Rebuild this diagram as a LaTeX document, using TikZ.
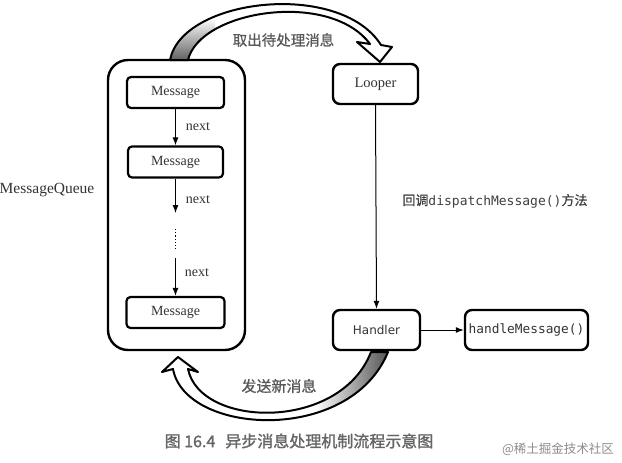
\documentclass[tikz,border=0pt]{standalone}
\usepackage{fontspec}
\setmainfont{Liberation Serif}
\newfontfamily\cjk{Noto Sans CJK SC}
\newfontfamily\cjkb[FakeBold=1.5]{Noto Sans CJK SC}
\newfontfamily\cjkm[FakeBold=0.8]{Noto Sans CJK SC}
\newfontfamily\monof{DejaVu Sans Mono}
\newfontfamily\sansf{DejaVu Sans}
\usetikzlibrary{arrows.meta}
\begin{document}
\begin{tikzpicture}[x=1pt,y=-1pt,
  txt/.style={text=black!80, inner sep=0pt},
  msgbox/.style={draw=black, line width=2.2pt, rounded corners=4pt, minimum height=31pt, inner sep=0pt, text=black!80, font=\fontsize{14}{16}\selectfont},
  bigbox/.style={draw=black, line width=2.4pt, rounded corners=7pt, minimum height=40pt, inner sep=0pt, text=black!80},
  conn/.style={draw=black, line width=1pt, -{Latex[length=8pt,width=6pt]}},
  blk/.style={draw=black, line width=2pt, line join=round}]
\useasboundingbox (0,0) rectangle (622,463);
\fill[white] (0,0) rectangle (622,463);

% MessageQueue container
\node[draw=black, line width=2.4pt, rounded corners=20pt, minimum width=137pt, minimum height=290pt, inner sep=0pt] (mq) at (176.5,205) {};
\node[txt, font=\fontsize{15.5}{18}\selectfont] (mqlabel) at (47,190) {MessageQueue};

\node[msgbox, minimum width=97pt] (m1) at (175.5,92.5) {Message};
\node[msgbox, minimum width=95pt] (m2) at (175.5,162) {Message};
\node[msgbox, minimum width=98pt] (m3) at (175.5,312.5) {Message};

\coordinate (a2end) at (175.5,213);
\coordinate (dtop) at (175.5,229);
\coordinate (dbot) at (175.5,251);
\coordinate (a3start) at (175.5,258);

\draw[conn] (m1.south) -- (m2.north);
\draw[conn] (m2.south) -- (a2end);
\draw[line width=1.2pt, dotted] (dtop) -- (dbot);
\draw[conn] (a3start) -- (m3.north);

\node[txt, font=\fontsize{14}{16}\selectfont] (n1) at (198,127) {next};
\node[txt, font=\fontsize{14}{16}\selectfont] (n2) at (198,200) {next};
\node[txt, font=\fontsize{14}{16}\selectfont] (n3) at (197,273) {next};

% right side
\node[bigbox, minimum width=85pt, font=\fontsize{14.5}{17}\selectfont] (looper) at (375.5,84) {Looper};
\node[bigbox, minimum width=87pt, font=\sansf\fontsize{12}{14}\selectfont] (handler) at (376.5,330) {Handler};
\node[bigbox, minimum width=123pt, font=\monof\fontsize{12.8}{15}\selectfont] (hm) at (526.5,330) {handleMessage()};

\draw[conn] (looper.south) -- (handler.north);
\draw[conn] (handler.east) -- (hm.west);

\node[txt, text=black!75, font=\fontsize{13}{15}\selectfont] (disp) at (495,201) {\cjkm 回调{\monof dispatchMessage()}方法};

% top block arrow
\def\toparrow{(170,60) .. controls (182,-2) and (340,-20) .. (381,45) -- (392,47) -- (380,62) -- (357,42) -- (370,44) .. controls (330,-10) and (200,10) .. (188,60) -- cycle}
\fill[white] \toparrow;
\begin{scope}
  \clip \toparrow;
  \shade[top color=white, bottom color=black!65] (160,18) rectangle (215,62);
\end{scope}
\draw[blk] \toparrow;
\node[txt, text=black!65, font=\cjkm\fontsize{14.5}{17}\selectfont] (take) at (283.5,40) {取出待处理消息};

% bottom block arrow
\def\botarrow{(388,352) .. controls (350,445) and (185,435) .. (173,369) -- (162,372) -- (178,357) -- (198,372) -- (188,369) .. controls (200,428) and (340,432) .. (371,352) -- cycle}
\fill[white] \botarrow;
\begin{scope}
  \clip \botarrow;
  \shade[left color=white, right color=black!70] (315,345) rectangle (392,425);
\end{scope}
\draw[blk] \botarrow;
\node[txt, text=black!65, font=\cjkm\fontsize{15}{18}\selectfont] (send) at (279,386) {发送新消息};

% caption and watermark
\node[inner sep=0pt, text=black!60, font=\cjkb\fontsize{16}{19}\selectfont] (cap) at (299,441) {图 16.4\hspace{10pt}异步消息处理机制流程示意图};
\node[inner sep=0pt, text=black!45, font=\cjk\fontsize{12.5}{15}\selectfont] (wm) at (558,449) {@稀土掘金技术社区};
\end{tikzpicture}
\end{document}
